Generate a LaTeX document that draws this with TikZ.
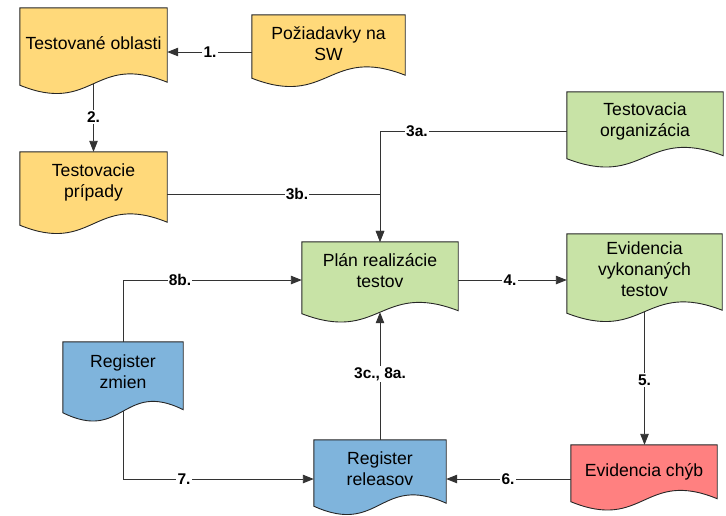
\documentclass[tikz,border=0pt]{standalone}
\usepackage{fontspec}
\setmainfont{Liberation Sans}
\usetikzlibrary{arrows.meta,calc,fit}
\definecolor{docyellow}{HTML}{FFD97A}
\definecolor{docgreen}{HTML}{C8E3A6}
\definecolor{docblue}{HTML}{7FB4DC}
\definecolor{docred}{HTML}{FF8080}
\tikzset{
  area/.style={inner sep=0pt, draw=none},
  docline/.style={draw=black!85, line width=0.9pt},
  txt/.style={inner sep=0pt, align=center, font=\fontsize{17.6pt}{21pt}\selectfont},
  lbl/.style={fill=white, inner sep=1.2pt, font=\fontsize{15.5pt}{18pt}\selectfont\bfseries},
  conn/.style={draw=black!80, line width=0.9pt},
  arr/.style={conn, -{Triangle[length=11pt,width=8.5pt]}},
}
\newcommand\docshape[2]{%
  \draw[docline, fill=#2] (#1.north west) -- (#1.north east) -- ([yshift=1.5pt]#1.south east)
    .. controls ([yshift=31.5pt]#1.south) and ([yshift=-31.5pt]#1.south) .. ([yshift=-1.5pt]#1.south west) -- cycle;}
\begin{document}
\begin{tikzpicture}[x=1pt,y=-1pt]
\useasboundingbox (0,0) rectangle (726,515);
% shape areas
\node[area, fit={(20,8) (167,83.5)}] (to) {};
\node[area, fit={(252,15) (405,76.5)}] (pz) {};
\node[area, fit={(20,152) (167,223.5)}] (tp) {};
\node[area, fit={(567,92) (723,157)}] (tor) {};
\node[area, fit={(567,234) (722,311.5)}] (ev) {};
\node[area, fit={(302,242) (458,312)}] (pl) {};
\node[area, fit={(63,342) (183,411)}] (rz) {};
\node[area, fit={(314,440) (446,504.5)}] (rr) {};
\node[area, fit={(571,445) (717,500)}] (ec) {};
% shapes
\docshape{to}{docyellow}
\docshape{pz}{docyellow}
\docshape{tp}{docyellow}
\docshape{tor}{docgreen}
\docshape{ev}{docgreen}
\docshape{pl}{docgreen}
\docshape{rz}{docblue}
\docshape{rr}{docblue}
\docshape{ec}{docred}
% texts
\node[txt] (toT) at (93.5,43) {Testované oblasti};
\node[txt] (pzT) at (328.5,44) {Požiadavky na\\SW};
\node[txt] (tpT) at (93.5,182.5) {Testovacie\\prípady};
\node[txt] (torT) at (645,121) {Testovacia\\organizácia};
\node[txt] (evT) at (644.5,269) {Evidencia\\vykonaných\\testov};
\node[txt] (plT) at (380,271) {Plán realizácie\\testov};
\node[txt] (rzT) at (123,371.5) {Register\\zmien};
\node[txt] (rrT) at (380,468.5) {Register\\releasov};
\node[txt] (ecT) at (644,472) {Evidencia chýb};
% connectors
\draw[arr] (pz.west |- 0,52) -- (to.east |- 0,52);
\draw[arr] (to.south) -- (tp.north);
\draw[arr] (tor.west |- 0,131) -| (pl.north);
\draw[arr] (tp.east |- 0,194) -| (pl.north);
\draw[arr] (pl.east |- 0,280) -- (ev.west |- 0,280);
\draw[arr] (ev.south) -- (ec.north -| ev.south);
\draw[arr] (ec.west |- 0,479) -- (rr.east |- 0,479);
\draw[arr] (rz.south) |- (rr.west |- 0,479);
\draw[arr] (rz.north) |- (pl.west |- 0,280);
\draw[arr] (rr.north) -- (pl.south);
% labels
\node[lbl] (l1) at (210,52) {1.};
\node[lbl] (l2) at (93.5,117) {2.};
\node[lbl] (l3a) at (417,131) {3a.};
\node[lbl] (l3b) at (297,194) {3b.};
\node[lbl] (l4) at (510,280) {4.};
\node[lbl] (l5) at (644.5,380) {5.};
\node[lbl] (l6) at (508,479) {6.};
\node[lbl] (l7) at (184,479) {7.};
\node[lbl] (l8b) at (180,280) {8b.};
\node[lbl] (l3c) at (380,374) {3c., 8a.};
\end{tikzpicture}
\end{document}
